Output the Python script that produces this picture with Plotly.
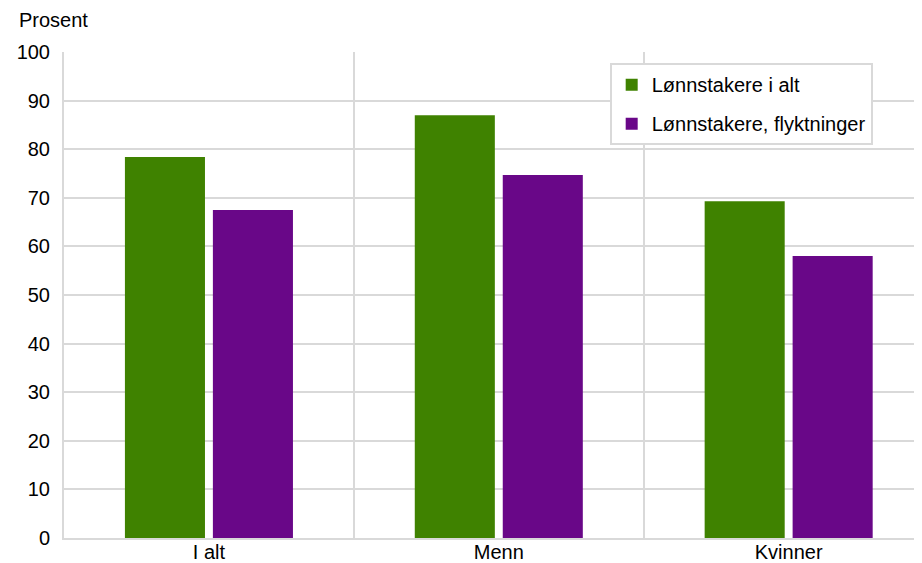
import plotly.graph_objects as go

categories = ["I alt", "Menn", "Kvinner"]
alle = [78.4, 87.0, 69.3]
flyktninger = [67.5, 74.7, 58.0]
series_names = ["Lønnstakere i alt", "Lønnstakere, flyktninger"]
y_ticks = [0, 10, 20, 30, 40, 50, 60, 70, 80, 90, 100]

font = dict(family="Liberation Sans, Arial, sans-serif", size=20, color="#000000")

fig = go.Figure()
fig.add_trace(go.Bar(x=categories, y=alle, name=series_names[0],
                     marker=dict(color="#3f8200", line=dict(width=0)),
                     legendgroup="a"))
fig.add_trace(go.Bar(x=categories, y=flyktninger, name=series_names[1],
                     marker=dict(color="#690788", line=dict(width=0)),
                     legendgroup="b"))

# the page body has an 8px margin, so the figure is a bit smaller than the window
fig.update_layout(
    width=914, height=555,
    margin=dict(l=56, r=0, t=44, b=25),
    paper_bgcolor="white", plot_bgcolor="white",
    font=font,
    barmode="group", bargap=0.393, bargroupgap=0.09,
    showlegend=True,
    legend=dict(x=0.636, y=0.977, xanchor="left", yanchor="top",
                bgcolor="white", bordercolor="#d9d9d9", borderwidth=2,
                traceorder="grouped", tracegroupgap=10,
                font=font, itemwidth=30),
    xaxis=dict(type="category", range=[-0.5, 2.46], tickson="boundaries",
               showgrid=True, gridcolor="#d9d9d9", gridwidth=2,
               showline=True, linecolor="#d9d9d9", linewidth=2,
               ticks="", ticklen=0, tickfont=font, automargin=False,
               ticklabelstandoff=-5),
    yaxis=dict(range=[0, 100], tickvals=y_ticks, showgrid=True,
               gridcolor="#d9d9d9", gridwidth=2, zeroline=False,
               showline=True, linecolor="#d9d9d9", linewidth=2,
               ticks="", ticklabelstandoff=8, tickfont=font, automargin=False),
    annotations=[dict(text="Prosent", xref="paper", yref="paper",
                      x=-0.055, y=1.04, xanchor="left", yanchor="bottom",
                      showarrow=False, font=font)],
)

fig.write_html("out.html")
